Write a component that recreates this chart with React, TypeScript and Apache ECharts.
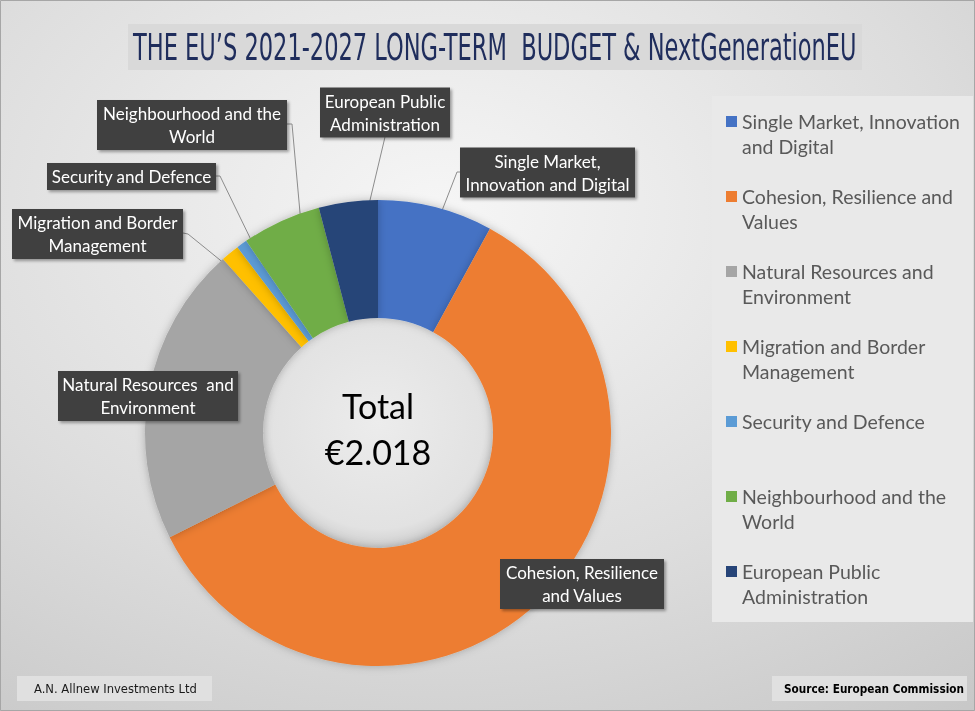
import React, { useEffect, useRef } from 'react';
import * as echarts from 'echarts';

// ---------- data ----------
const categories = [
  'Single Market, Innovation and Digital',
  'Cohesion, Resilience and Values',
  'Natural Resources and Environment',
  'Migration and Border Management',
  'Security and Defence',
  'Neighbourhood and the World',
  'European Public Administration',
];
const values = [161.0, 1203.2, 419.9, 25.7, 14.9, 110.6, 82.5];
const colors = ['#4472C4', '#ED7D31', '#A5A5A5', '#FFC000', '#5B9BD5', '#70AD47', '#264478'];
const legendLabels = [
  'Single Market, Innovation\nand Digital',
  'Cohesion, Resilience and\nValues',
  'Natural Resources and\nEnvironment',
  'Migration and Border\nManagement',
  'Security and Defence',
  'Neighbourhood and the\nWorld',
  'European Public\nAdministration',
];
const sliceLabels = [
  'Single Market,\nInnovation and Digital',
  'Cohesion, Resilience\nand Values',
  'Natural Resources  and\nEnvironment',
  'Migration and Border\nManagement',
  'Security and Defence',
  'Neighbourhood and the\nWorld',
  'European Public\nAdministration',
];
const totalLines = ['Total', '€2.018'];
const titleText = 'THE EU’S 2021-2027 LONG-TERM  BUDGET & NextGenerationEU';
const footerLeft = 'A.N. Allnew Investments Ltd';
const footerRight = 'Source: European Commission';

// ---------- layout (not data) ----------
const CX = 378;
const CY = 433;
const R_IN = 115;
const R_OUT = 233;
const labelBoxes = [
  { cx: 547.5, cy: 172.5, w: 175, edge: [460, 172], elbow: [457, 172], line: true },
  { cx: 582, cy: 584, w: 164, line: false },
  { cx: 148, cy: 396, w: 180, line: false },
  { cx: 97.5, cy: 234, w: 171, edge: [183, 233], elbow: [188, 234], line: true },
  { cx: 131.5, cy: 176.5, w: 169, edge: [216, 176], elbow: [220, 176], line: true },
  { cx: 192, cy: 125, w: 190, edge: [287, 124], elbow: [292, 124], line: true },
  { cx: 385, cy: 112.5, w: 130, edge: [385, 137], elbow: [385, 137], line: true },
];

const SANS_COND = '"DejaVu Sans Condensed", "Liberation Sans", sans-serif';

function measure(text: string, size: number, family: string, weight = 'normal'): number {
  const c = document.createElement('canvas');
  const ctx = c.getContext('2d');
  if (!ctx) return 700;
  ctx.font = `${weight} ${size}px ${family}`;
  return ctx.measureText(text).width;
}

export default function App() {
  const ref = useRef<HTMLDivElement>(null);
  useEffect(() => {
    if (!ref.current) return;
    const chart = echarts.init(ref.current, undefined, { renderer: 'svg' });
    const total = values.reduce((a, b) => a + b, 0);
    const midAngles: number[] = [];
    let acc = 0;
    values.forEach((v) => {
      const a = (v / total) * 360;
      midAngles.push(acc + a / 2);
      acc += a;
    });
    const anchor = (i: number) => {
      const rad = (midAngles[i] * Math.PI) / 180;
      const r = (R_IN + R_OUT) / 2;
      return [CX + r * Math.sin(rad), CY - r * Math.cos(rad)];
    };

    const titleSize = 37;
    const titleScale = 724 / measure(titleText, titleSize, SANS_COND);
    const fl = 163 / measure(footerLeft, 13, SANS_COND);
    const fr = 180 / measure(footerRight, 13, SANS_COND, 'bold');

    const option: any = {
      animation: false,
      graphic: [
        {
          type: 'rect',
          z: -10,
          silent: true,
          shape: { x: 0, y: 0, width: 975, height: 711 },
          style: {
            fill: {
              type: 'radial', x: 0.45, y: 0.3, r: 0.95,
              colorStops: [
                { offset: 0, color: '#f6f6f6' },
                { offset: 0.55, color: '#dddddd' },
                { offset: 1, color: '#c4c4c4' },
              ],
            },
          },
        },
        {
          type: 'rect', z: -9, silent: true,
          shape: { x: 0.5, y: 0.5, width: 974, height: 710 },
          style: { fill: 'none', stroke: '#a6a6a6', lineWidth: 1 },
        },
        {
          type: 'rect', z: -8, silent: true,
          shape: { x: 128, y: 24, width: 734, height: 46 },
          style: { fill: '#d9d9d9' },
        },
        {
          type: 'text', z: -7, silent: true,
          x: 133, y: 47, scaleX: titleScale, scaleY: 1,
          style: {
            text: titleText,
            fontFamily: SANS_COND,
            fontSize: titleSize,
            fill: '#1f2d5c',
            align: 'left',
            verticalAlign: 'middle',
          },
        },
        {
          type: 'rect', z: -8, silent: true,
          shape: { x: 712, y: 96, width: 261, height: 526 },
          style: { fill: '#e9e9e9' },
        },
        {
          type: 'circle', z: -5, silent: true,
          shape: { cx: CX, cy: CY, r: R_IN },
          style: {
            fill: {
              type: 'radial', x: 0.5, y: 0.45, r: 0.55,
              colorStops: [
                { offset: 0, color: '#ececec' },
                { offset: 0.85, color: '#e2e2e2' },
                { offset: 1, color: '#cfcfcf' },
              ],
            },
          },
        },
        {
          type: 'text', z: 10, silent: true,
          x: CX, y: 422,
          style: {
            text: totalLines[0], fill: '#000', fontSize: 34, fontFamily: 'Lato',
            align: 'center', verticalAlign: 'bottom',
          },
        },
        {
          type: 'text', z: 10, silent: true,
          x: CX, y: 468,
          style: {
            text: totalLines[1], fill: '#000', fontSize: 34, fontFamily: 'Lato',
            align: 'center', verticalAlign: 'bottom',
          },
        },
        {
          type: 'rect', z: -8, silent: true,
          shape: { x: 17, y: 676, width: 195, height: 25 },
          style: { fill: '#e0e0e0' },
        },
        {
          type: 'text', z: -7, silent: true,
          x: 34, y: 688.5, scaleX: fl,
          style: {
            text: footerLeft, fill: '#1a1a1a', fontSize: 13, fontFamily: SANS_COND,
            align: 'left', verticalAlign: 'middle',
          },
        },
        {
          type: 'rect', z: -8, silent: true,
          shape: { x: 772, y: 676, width: 195, height: 25 },
          style: { fill: '#e0e0e0' },
        },
        {
          type: 'text', z: -7, silent: true,
          x: 784, y: 688.5, scaleX: fr,
          style: {
            text: footerRight, fill: '#000', fontSize: 13, fontWeight: 'bold',
            fontFamily: SANS_COND,
            align: 'left', verticalAlign: 'middle',
          },
        },
      ],
      legend: {
        orient: 'vertical',
        left: 721,
        top: 79,
        itemWidth: 11,
        itemHeight: 11,
        itemGap: 0,
        icon: 'rect',
        selectedMode: false,
        data: categories,
        formatter: (name: string) => {
          const t = legendLabels[categories.indexOf(name)];
          return t.indexOf('\n') >= 0 ? '\n' + t : '\n' + t + '\n ';
        },
        textStyle: {
          color: '#595959',
          fontSize: 19.5,
          fontFamily: 'Lato',
          lineHeight: 25,
        },
      },
      series: [
        {
          type: 'pie',
          center: [CX, CY],
          radius: [R_IN, R_OUT],
          startAngle: 90,
          clockwise: true,
          avoidLabelOverlap: false,
          silent: true,
          emphasis: { disabled: true },
          itemStyle: {
            shadowBlur: 8,
            shadowColor: 'rgba(0,0,0,0.25)',
          },
          label: {
            show: true,
            position: 'outside',
            color: '#ffffff',
            fontFamily: 'Lato',
            fontSize: 17,
            lineHeight: 23,
            backgroundColor: '#404040',
            padding: [2, 0],
            align: 'center',
            shadowBlur: 3,
            shadowOffsetX: 2,
            shadowOffsetY: 2,
            shadowColor: 'rgba(0,0,0,0.35)',
          },
          labelLine: {
            show: true,
            lineStyle: { color: '#8c8c8c', width: 1 },
          },
          labelLayout: (params: any) => {
            const i = params.dataIndex;
            const b = labelBoxes[i];
            const res: any = { x: b.cx, y: b.cy, align: 'center', verticalAlign: 'middle' };
            if (b.line) {
              res.labelLinePoints = [anchor(i), b.elbow, b.edge];
            }
            return res;
          },
          data: categories.map((name, i) => ({
            name,
            value: values[i],
            itemStyle: { color: colors[i] },
            label: {
              formatter: sliceLabels[i],
              width: labelBoxes[i].w,
            },
            labelLine: { show: labelBoxes[i].line },
          })),
        },
      ],
    };
    chart.setOption(option);
    return () => chart.dispose();
  }, []);
  return (
    <div
      ref={ref}
      style={{ position: 'fixed', left: 0, top: 0, width: 975, height: 711 }}
    />
  );
}
